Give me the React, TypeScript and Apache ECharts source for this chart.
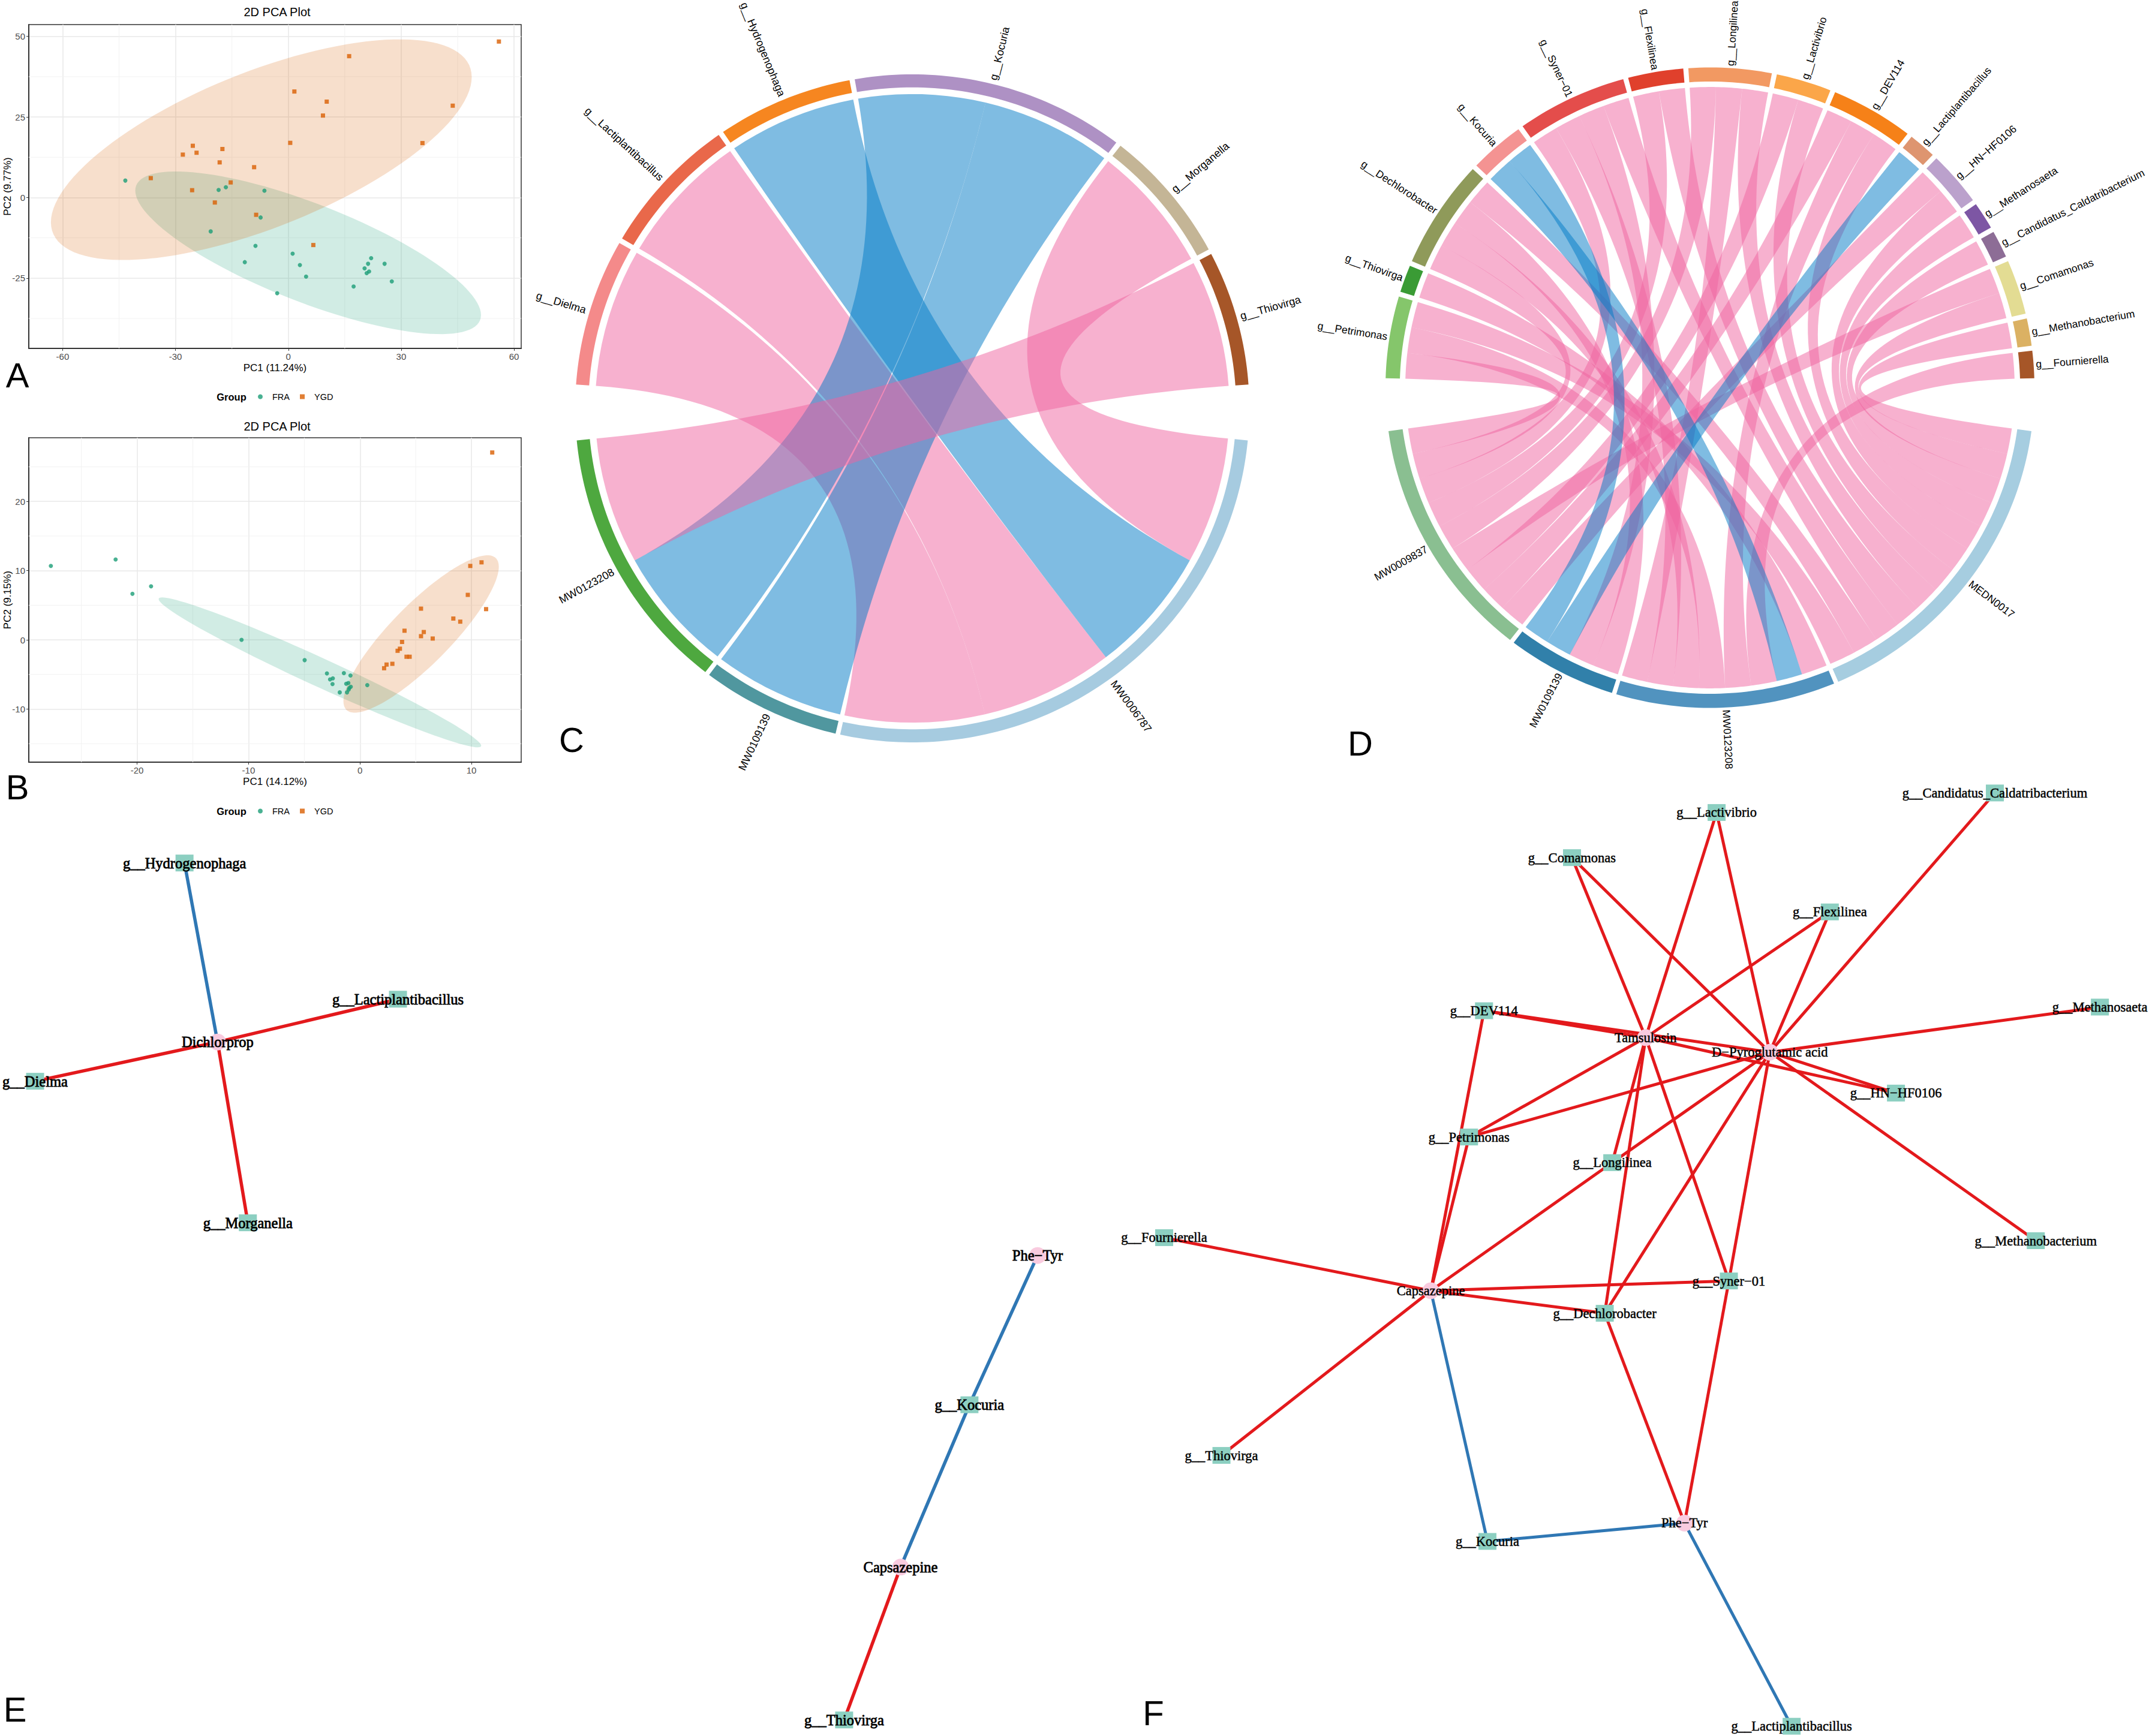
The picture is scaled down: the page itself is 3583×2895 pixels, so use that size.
import React, { useEffect, useRef } from "react";
import * as echarts from "echarts";

// ---------- PCA data ----------
const pcaAFra = [[-43.34,5.27],[-18.54,2.37],[-16.61,3.2],[-6.36,2.12],[-7.37,-6.18],[-20.64,-10.5],[-8.74,-14.98],[1.14,-17.39],[-11.58,-20.04],[3.07,-20.95],[4.71,-24.52],[-2.97,-29.67],[17.35,-27.59],[22.01,-18.8],[25.58,-20.54],[21.19,-20.54],[20.27,-21.95],[21.46,-22.95],[20.82,-23.44],[27.5,-26.02]];
const pcaAYgd = [[55.97,48.4],[16.16,43.86],[1.6,32.9],[10.2,29.75],[43.7,28.5],[9.2,25.44],[0.5,16.97],[35.65,16.9],[-25.4,16.06],[-17.53,15.06],[-24.4,13.9],[-28.05,13.32],[-18.26,10.91],[-9.1,9.42],[-36.57,6.02],[-15.33,4.69],[-25.58,2.28],[-19.54,-1.54],[-8.56,-5.35],[6.64,-14.73]];
const pcaBFra = [[-27.74,10.68],[-21.93,11.62],[-18.75,7.74],[-20.42,6.65],[-10.63,0],[-4.97,-2.93],[-2.97,-4.85],[-1.45,-4.81],[-0.86,-5.15],[-2.44,-5.56],[-2.69,-5.71],[-2.47,-6.39],[-1.05,-6.24],[-1.24,-6.35],[0.65,-6.54],[-0.83,-6.77],[-0.96,-6.95],[-1.02,-7.18],[-1.82,-7.59],[-1.17,-7.59]];
const pcaBYgd = [[11.86,27.07],[10.9,11.2],[9.89,10.68],[9.67,6.5],[5.47,4.51],[11.31,4.44],[8.37,3.08],[8.99,2.63],[3.99,1.32],[5.72,1.13],[5.47,0.53],[6.52,0.19],[3.77,-0.3],[3.58,-1.28],[3.37,-1.58],[4.17,-2.44],[4.45,-2.44],[2.9,-3.46],[2.38,-3.57],[2.16,-4.1]];
// [centre x, centre y, spread x, spread y, correlation]
const ellipseAFra = [5.26,-17.14,45.95,25.23,-0.765];
const ellipseAYgd = [-7.19,14.85,55.93,34.23,0.658];
const ellipseBFra = [-3.6,-4.7,14.47,10.83,-0.978];
const ellipseBYgd = [5.48,0.85,6.97,11.37,0.854];
const ticksAX = [-60,-30,0,30,60];
const ticksAY = [-25,0,25,50];
const minorAX = [-45,-15,15,45];
const minorAY = [-37.5,-12.5,12.5,37.5];
const ticksBX = [-20,-10,0,10];
const ticksBY = [-10,0,10,20];
const minorBX = [-25,-15,-5,5];
const minorBY = [-15,-5,5,15,25];

// ---------- network data (layout units of each panel) ----------
const eNodes = [
  ["g__Hydrogenophaga",268,100,"g"],["g__Lactiplantibacillus",578,329,"g"],["Dichlorprop",316,401,"m"],["g__Dielma",51,467,"g"],["g__Morganella",360,705,"g"],
  ["Phe−Tyr",1507,760,"m"],["g__Kocuria",1408,1011,"g"],["Capsazepine",1308,1284,"m"],["g__Thiovirga",1226,1541,"g"],
];
const eEdges = [
  ["g__Hydrogenophaga","Dichlorprop","neg"],["g__Lactiplantibacillus","Dichlorprop","pos"],["g__Dielma","Dichlorprop","pos"],["g__Morganella","Dichlorprop","pos"],
  ["Phe−Tyr","g__Kocuria","neg"],["g__Kocuria","Capsazepine","neg"],["g__Thiovirga","Capsazepine","pos"],
];
const fNodes = [
  ["g__Candidatus_Caldatribacterium",1342,22,"g"],["g__Lactivibrio",934,54,"g"],["g__Comamonas",722,128,"g"],["g__Flexilinea",1100,217,"g"],["g__Methanosaeta",1496,373,"g"],
  ["g__DEV114",593,379,"g"],["Tamsulosin",830,423,"m"],["D−Pyroglutamic acid",1012,447,"m"],["g__HN−HF0106",1197,514,"g"],["g__Petrimonas",571,586,"g"],["g__Longilinea",781,628,"g"],
  ["g__Methanobacterium",1402,756,"g"],["g__Fournierella",124,751,"g"],["g__Syner−01",952,822,"g"],["Capsazepine",515,838,"m"],["g__Dechlorobacter",770,875,"g"],["g__Thiovirga",208,1108,"g"],
  ["g__Kocuria",598,1249,"g"],["Phe−Tyr",887,1219,"m"],["g__Lactiplantibacillus",1044,1552,"g"],
];
const T = "Tamsulosin", P = "D−Pyroglutamic acid", K = "Capsazepine", Y = "Phe−Tyr";
const fEdges = [
  ["g__Candidatus_Caldatribacterium",P,"pos"],["g__Lactivibrio",T,"pos"],["g__Lactivibrio",P,"pos"],["g__Comamonas",T,"pos"],["g__Comamonas",P,"pos"],
  ["g__Flexilinea",T,"pos"],["g__Flexilinea",P,"pos"],["g__Methanosaeta",P,"pos"],["g__DEV114",T,"pos"],["g__DEV114",P,"pos"],["g__DEV114",K,"pos"],
  ["g__HN−HF0106",T,"pos"],["g__HN−HF0106",P,"pos"],["g__Petrimonas",T,"pos"],["g__Petrimonas",P,"pos"],["g__Petrimonas",K,"pos"],
  ["g__Longilinea",T,"pos"],["g__Longilinea",P,"pos"],["g__Longilinea",K,"pos"],["g__Syner−01",T,"pos"],["g__Syner−01",P,"pos"],["g__Syner−01",K,"pos"],["g__Syner−01",Y,"pos"],
  ["g__Dechlorobacter",T,"pos"],["g__Dechlorobacter",P,"pos"],["g__Dechlorobacter",K,"pos"],["g__Dechlorobacter",Y,"pos"],
  ["g__Methanobacterium",P,"pos"],["g__Fournierella",K,"pos"],["g__Thiovirga",K,"pos"],
  [K,"g__Kocuria","neg"],["g__Kocuria",Y,"neg"],[Y,"g__Lactiplantibacillus","neg"],
];

// ---------- chord data ----------
const cTop = ["g__Dielma","g__Lactiplantibacillus","g__Hydrogenophaga","g__Kocuria","g__Morganella","g__Thiovirga"];
const cTopColors = ["#F48A8A","#E9684A","#F68620","#AE91C4","#C4B596","#A65628"];
const cBottom = ["MW0006787","MW0109139","MW0123208"];
const cBottomColors = ["#A6CBE0","#50979F","#4EA83F"];
// genus, sector, sign, link weight
const cLinks = [
  ["g__Dielma","MW0006787","pos",1.07],["g__Lactiplantibacillus","MW0006787","pos",1.02],["g__Hydrogenophaga","MW0006787","neg",0.98],["g__Morganella","MW0006787","pos",0.98],
  ["g__Kocuria","MW0123208","neg",0.97],["g__Kocuria","MW0109139","neg",1.0],["g__Thiovirga","MW0123208","pos",0.98],
];
const cTopOrder = ["MW0123208","MW0109139","MW0006787"];
const cBottomOrder = {
  MW0006787: ["g__Morganella","g__Hydrogenophaga","g__Lactiplantibacillus","g__Dielma"],
  MW0109139: ["g__Kocuria"],
  MW0123208: ["g__Kocuria","g__Thiovirga"],
};
const dTop = ["g__Petrimonas","g__Thiovirga","g__Dechlorobacter","g__Kocuria","g__Syner−01","g__Flexilinea","g__Longilinea","g__Lactivibrio","g__DEV114","g__Lactiplantibacillus","g__HN−HF0106","g__Methanosaeta","g__Candidatus_Caldatribacterium","g__Comamonas","g__Methanobacterium","g__Fournierella"];
const dTopColors = ["#85C66B","#3A9B35","#8F9A5A","#F49392","#E44D4B","#E0402C","#F29962","#FBA649","#F68118","#DE9570","#BBA1CC","#7D56A4","#8D6D96","#E3DC93","#DBB163","#A65628"];
const dBottom = ["MEDN0017","MW0123208","MW0109139","MW0009837"];
const dBottomColors = ["#A6CDE0","#5193BF","#3180AA","#8ABF91"];
const dMetabolite = { [T]: "MW0009837", [P]: "MEDN0017", [K]: "MW0123208", [Y]: "MW0109139" };
const dTopOrder = ["MW0009837","MW0123208","MW0109139","MEDN0017"];
const dBottomOrder = {
  MEDN0017: ["g__Methanobacterium","g__Comamonas","g__Candidatus_Caldatribacterium","g__Methanosaeta","g__HN−HF0106","g__DEV114","g__Lactivibrio","g__Longilinea","g__Flexilinea","g__Syner−01","g__Dechlorobacter","g__Petrimonas"],
  MW0123208: ["g__Thiovirga","g__Kocuria","g__Fournierella","g__DEV114","g__Petrimonas","g__Dechlorobacter","g__Syner−01","g__Longilinea"],
  MW0109139: ["g__Dechlorobacter","g__Syner−01","g__Lactiplantibacillus","g__Kocuria"],
  MW0009837: ["g__HN−HF0106","g__DEV114","g__Lactivibrio","g__Comamonas","g__Longilinea","g__Flexilinea","g__Syner−01","g__Dechlorobacter","g__Petrimonas"],
};
const dLinks = fEdges.map(([a, b, kind]) => {
  const genus = dMetabolite[a] ? b : a;
  const met = dMetabolite[a] ? a : b;
  return [genus, dMetabolite[met], kind, 1];
});

// ---------- helpers ----------
const SANS = "Liberation Sans";
const SERIF = "Liberation Serif";
const GREEN = "#1B9E77";
const ORANGE = "#D95F02";
const RIBBON = { pos: "rgba(239,99,159,0.5)", neg: "rgba(0,121,197,0.5)" };
const EDGE = { pos: "#E3191C", neg: "#2F77B4" };
const rad = (d) => (d * Math.PI) / 180;
const pt = (a, r) => [r * Math.sin(rad(a)), r * Math.cos(rad(a))];

function chordLayout(cfg) {
  const { top, topColors, bottom, bottomColors, links, topOrder, bottomOrder, topStart, topEnd, bottomStart, bottomEnd, gapTop, gapBottom, rLink, rInner } = cfg;
  const weight = (a, b) => {
    const l = links.find((k) => (k[0] === a && k[1] === b) || (k[0] === b && k[1] === a));
    return l ? l[3] : 0;
  };
  const total = (name) => links.filter((l) => l[0] === name || l[1] === name).reduce((s, l) => s + l[3], 0);
  const sum = (arr) => arr.reduce((s, n) => s + total(n), 0);
  const unitTop = (topEnd - topStart - gapTop * (top.length - 1)) / sum(top);
  const unitBottom = (bottomEnd - bottomStart - gapBottom * (bottom.length - 1)) / sum(bottom);
  const sectors = [];
  const slots = {};
  const place = (names, colors, start, unit, gap, partner) => {
    let a = start;
    names.forEach((name, i) => {
      const begin = a;
      partner(name).forEach((other) => {
        const w = unit * weight(name, other);
        slots[name + "|" + other] = [a, a + w];
        a += w;
      });
      sectors.push({ name, color: colors[i], a0: begin, a1: a });
      a += gap;
    });
  };
  place(top, topColors, topStart, unitTop, gapTop, (name) =>
    topOrder.filter((m) => links.some((l) => l[0] === name && l[1] === m)));
  place(bottom, bottomColors, bottomStart, unitBottom, gapBottom, (name) => bottomOrder[name]);
  const N = 48;
  const ribbons = links.map(([g, m, kind]) => {
    const [a0, a1] = slots[g + "|" + m];
    const [b0, b1] = slots[m + "|" + g];
    const pts = [];
    const arc = (s, e) => { for (let i = 0; i <= 10; i++) pts.push(pt(s + ((e - s) * i) / 10, rLink)); };
    const bez = (s, e) => {
      const p0 = pt(s, rLink), p1 = pt(e, rLink);
      for (let i = 1; i < N; i++) {
        const t = i / N;
        pts.push([(1 - t) * (1 - t) * p0[0] + t * t * p1[0], (1 - t) * (1 - t) * p0[1] + t * t * p1[1]]);
      }
    };
    arc(a0, a1); bez(a1, b0); arc(b0, b1); bez(b1, a0);
    return { pts, fill: RIBBON[kind] };
  });
  const tracks = sectors.map((s) => {
    const pts = [];
    const n = Math.max(6, Math.ceil(s.a1 - s.a0));
    for (let i = 0; i <= n; i++) pts.push(pt(s.a0 + ((s.a1 - s.a0) * i) / n, 1));
    for (let i = n; i >= 0; i--) pts.push(pt(s.a0 + ((s.a1 - s.a0) * i) / n, rInner));
    return { pts, fill: s.color, name: s.name, mid: (s.a0 + s.a1) / 2 };
  });
  return { ribbons, tracks };
}

function chordSeries(layout, axisIndex, labelR, fontSize) {
  const base = { type: "custom", coordinateSystem: "cartesian2d", xAxisIndex: axisIndex, yAxisIndex: axisIndex, silent: true, clip: false };
  return [
    {
      ...base, z: 3, data: layout.ribbons.map((_, i) => [i, 0]),
      renderItem: (p, api) => {
        const r = layout.ribbons[p.dataIndex];
        return { type: "polygon", shape: { points: r.pts.map((q) => api.coord(q)) }, style: { fill: r.fill } };
      },
    },
    {
      ...base, z: 4, data: layout.tracks.map((_, i) => [i, 0]),
      renderItem: (p, api) => {
        const t = layout.tracks[p.dataIndex];
        const m = ((t.mid % 360) + 360) % 360;
        const right = m < 180;
        const [x, y] = api.coord(pt(t.mid, labelR));
        return {
          type: "group",
          children: [
            { type: "polygon", shape: { points: t.pts.map((q) => api.coord(q)) }, style: { fill: t.fill } },
            {
              type: "text", x, y, rotation: rad(right ? 90 - m : 270 - m),
              style: { text: t.name, fill: "#000", fontSize, fontFamily: SANS, align: right ? "left" : "right", verticalAlign: "middle" },
            },
          ],
        };
      },
    },
  ];
}

function pcaAxes(gi, xMin, xMax, yMin, yMax, xt, yt, xName, yName) {
  const label = { color: "#4d4d4d", fontSize: 15, fontFamily: SANS };
  const name = { color: "#000", fontSize: 17, fontFamily: SANS };
  const line = { show: true, onZero: false, lineStyle: { color: "#333", width: 2 } };
  const tick = { show: true, length: 4, lineStyle: { color: "#333", width: 1 } };
  const split = { show: true, lineStyle: { color: "#E8E8E8", width: 1.5 } };
  return {
    x: { type: "value", gridIndex: gi, min: xMin, max: xMax, name: xName, nameLocation: "middle", nameGap: 24, nameTextStyle: name, axisLine: line,
      axisTick: { ...tick, customValues: xt }, axisLabel: { ...label, margin: 6, customValues: xt }, splitLine: split },
    y: { type: "value", gridIndex: gi, min: yMin, max: yMax, name: yName, nameLocation: "middle", nameGap: 27, nameMoveOverlap: false, nameTextStyle: name, axisLine: line,
      axisTick: { ...tick, customValues: yt }, axisLabel: { ...label, margin: 6, customValues: yt }, splitLine: split },
  };
}

function pcaSeries(ai, fra, ygd, eFra, eYgd, minorX, minorY) {
  const base = { type: "custom", coordinateSystem: "cartesian2d", xAxisIndex: ai, yAxisIndex: ai, silent: true };
  const ell = (e, fill, name) => ({
    ...base, name: name + " ellipse", z: 2, data: [[e[0], e[1]]],
    renderItem: (_, api) => {
      const [cx, cy, sx, sy, rho] = e;
      const d = Math.acos(rho);
      const points = [];
      for (let i = 0; i < 120; i++) {
        const t = (i / 120) * 2 * Math.PI;
        points.push(api.coord([cx + sx * Math.cos(t), cy + sy * Math.cos(t - d)]));
      }
      return { type: "polygon", shape: { points }, style: { fill } };
    },
  });
  const minor = (vals, vertical) => ({
    ...base, z: 1, data: vals.map((v) => [vertical ? v : 0, vertical ? 0 : v]),
    renderItem: (p, api) => {
      const v = vals[p.dataIndex];
      const c = p.coordSys;
      const q = api.coord(vertical ? [v, 0] : [0, v]);
      const shape = vertical ? { x1: q[0], x2: q[0], y1: c.y, y2: c.y + c.height } : { x1: c.x, x2: c.x + c.width, y1: q[1], y2: q[1] };
      return { type: "line", shape, style: { stroke: "#F2F2F2", lineWidth: 1 } };
    },
  });
  const pts = (name, data, symbol, color) => ({
    type: "scatter", name, xAxisIndex: ai, yAxisIndex: ai, data, symbol, symbolSize: 7, z: 5, itemStyle: { color }, silent: true,
  });
  return [minor(minorX, true), minor(minorY, false), ell(eFra, "rgba(27,158,119,0.2)", "FRA"), ell(eYgd, "rgba(217,95,2,0.2)", "YGD"), pts("FRA", fra, "circle", GREEN), pts("YGD", ygd, "rect", ORANGE)];
}

function netSeries(ai, nodes, edges, fontSize, lineWidth, stroke) {
  const idx = (n) => nodes.findIndex((x) => x[0] === n);
  return {
    type: "graph", coordinateSystem: "cartesian2d", xAxisIndex: ai, yAxisIndex: ai, layout: "none", silent: true, z: 3,
    data: nodes.map(([name, x, y, kind]) => ({
      name, value: [x, y],
      symbol: kind === "g" ? "rect" : "circle",
      symbolSize: kind === "g" ? [30, 28] : 28,
      itemStyle: { color: kind === "g" ? "#8CCFC1" : "#F9CBDF" },
    })),
    links: edges.map(([a, b, kind]) => ({ source: idx(a), target: idx(b), lineStyle: { color: EDGE[kind], width: lineWidth, opacity: 1, curveness: 0 } })),
    label: { show: true, position: "inside", color: "#000", fontSize, fontFamily: SERIF, textBorderColor: "#000", textBorderWidth: stroke, formatter: "{b}" },
    lineStyle: { opacity: 1 },
    edgeSymbol: ["none", "none"],
  };
}

const hiddenX = (gi, min, max) => ({ type: "value", gridIndex: gi, show: false, min, max, splitLine: { show: false } });
const hiddenY = (gi, min, max, inverse) => ({ type: "value", gridIndex: gi, show: false, min, max, inverse, splitLine: { show: false } });

const panelLetters = [["A", 29, 625], ["B", 29, 1312], ["C", 953, 1233], ["D", 2268, 1239], ["E", 25, 2850], ["F", 1923, 2856]];

export default function App() {
  const ref = useRef(null);
  useEffect(() => {
    document.body.style.margin = "0";
    const chart = echarts.init(ref.current, null, { renderer: "svg" });
    const cLayout = chordLayout({
      top: cTop, topColors: cTopColors, bottom: cBottom, bottomColors: cBottomColors, links: cLinks, topOrder: cTopOrder, bottomOrder: cBottomOrder,
      topStart: -85.9, topEnd: 85.9, bottomStart: 95.5, bottomEnd: 264.5, gapTop: 0.9, gapBottom: 0.8, rLink: 0.941, rInner: 0.961,
    });
    const dLayout = chordLayout({
      top: dTop, topColors: dTopColors, bottom: dBottom, bottomColors: dBottomColors, links: dLinks, topOrder: dTopOrder, bottomOrder: dBottomOrder,
      topStart: -88.3, topEnd: 88.3, bottomStart: 97.8, bottomEnd: 262.2, gapTop: 0.9, gapBottom: 0.8, rLink: 0.939, rInner: 0.956,
    });
    const a = pcaAxes(0, -69, 61.9, -46.8, 53.66, ticksAX, ticksAY, "PC1 (11.24%)", "PC2 (9.77%)");
    const b = pcaAxes(1, -29.72, 14.46, -17.67, 29.2, ticksBX, ticksBY, "PC1 (14.12%)", "PC2 (9.15%)");
    const titleStyle = { fontSize: 20, fontWeight: "normal", color: "#000", fontFamily: SANS };
    const legendBase = {
      data: ["FRA", "YGD"], orient: "horizontal", left: 430, padding: 0, itemWidth: 8, itemHeight: 8, itemGap: 17, selectedMode: false,
      textStyle: { fontSize: 14.5, color: "#000", fontFamily: SANS, padding: [0, 0, 0, 11] },
    };
    const gridBase = { show: false, containLabel: false, outerBoundsMode: "none" };
    const option = {
      animation: false,
      backgroundColor: "#fff",
      title: [
        { text: "2D PCA Plot", left: 457, top: 5, textAlign: "center", textStyle: titleStyle },
        { text: "2D PCA Plot", left: 457, top: 696, textAlign: "center", textStyle: titleStyle },
      ],
      legend: [{ ...legendBase, top: 654 }, { ...legendBase, top: 1345 }],
      grid: [
        { ...gridBase, show: true, borderColor: "#333", borderWidth: 1.5, left: 48, top: 41, width: 821, height: 540 },
        { ...gridBase, show: true, borderColor: "#333", borderWidth: 1.5, left: 48, top: 730, width: 821, height: 541 },
        { ...gridBase, left: 959, top: 124, width: 1124, height: 1114 },
        { ...gridBase, left: 2310, top: 112.5, width: 1082, height: 1068 },
        { ...gridBase, left: 0, top: 1340, width: 1800, height: 1555 },
        { ...gridBase, left: 1800, top: 1300, width: 1783, height: 1595 },
      ],
      xAxis: [a.x, b.x, hiddenX(2, -1, 1), hiddenX(3, -1, 1), hiddenX(4, 0, 1568), hiddenX(5, 0, 1568)],
      yAxis: [a.y, b.y, hiddenY(2, -1, 1, false), hiddenY(3, -1, 1, false), hiddenY(4, 0, 1568, true), hiddenY(5, 0, 1568, true)],
      series: [
        ...pcaSeries(0, pcaAFra, pcaAYgd, ellipseAFra, ellipseAYgd, minorAX, minorAY),
        ...pcaSeries(1, pcaBFra, pcaBYgd, ellipseBFra, ellipseBYgd, minorBX, minorBY),
        ...chordSeries(cLayout, 2, 1.012, 18),
        ...chordSeries(dLayout, 3, 1.007, 17.5),
        netSeries(4, eNodes, eEdges, 24.5, 5.5, 0.8),
        netSeries(5, fNodes, fEdges, 22.5, 5, 0.5),
      ],
      graphic: [
        ...panelLetters.map(([text, x, y]) => ({
          type: "text", x, y, silent: true, style: { text, fontSize: 58, fontFamily: SANS, fill: "#000", align: "center", verticalAlign: "middle" },
        })),
        ...[662, 1353].map((y) => ({
          type: "text", x: 386, y, silent: true, style: { text: "Group", fontSize: 16.5, fontWeight: "bold", fontFamily: SANS, fill: "#000", align: "center", verticalAlign: "middle" },
        })),
      ],
    };
    chart.setOption(option);
    return () => chart.dispose();
  }, []);
  return <div ref={ref} style={{ position: "absolute", left: 0, top: 0, width: 3583, height: 2895 }} />;
}
